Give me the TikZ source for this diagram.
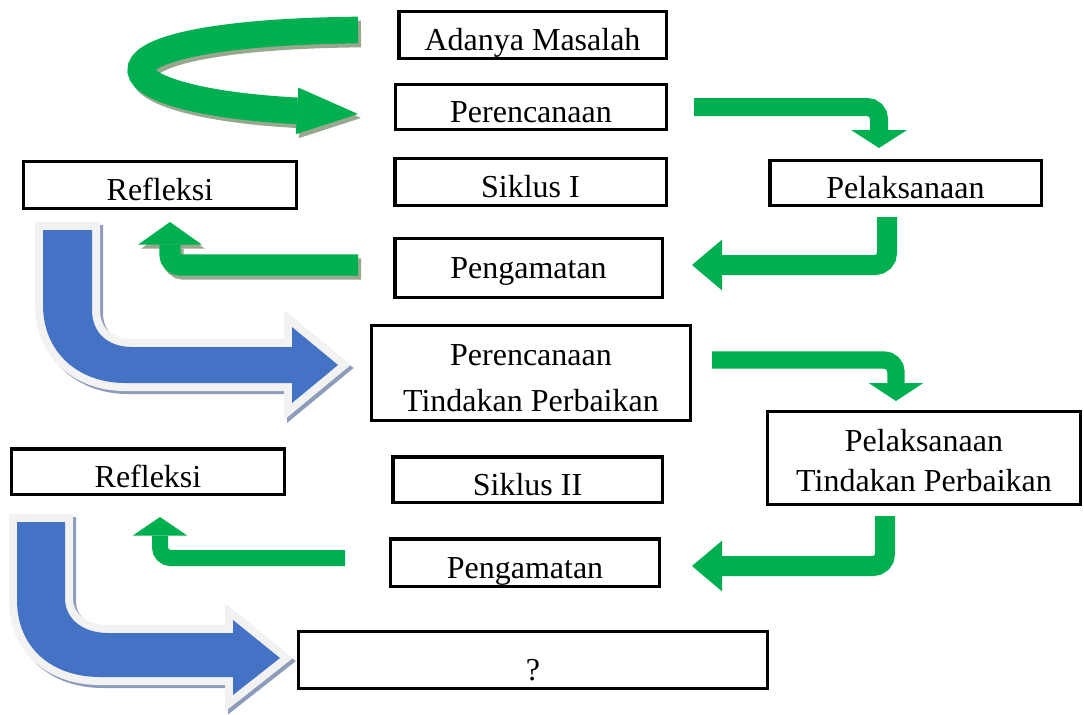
\documentclass[tikz,border=0pt]{standalone}
\usepackage{fontspec}
\setmainfont{Liberation Serif}
\usetikzlibrary{arrows.meta}
\definecolor{arrowgreen}{HTML}{00B050}
\definecolor{arrowblue}{HTML}{4472C4}
\definecolor{greenshade}{HTML}{98A88E}
\definecolor{blueshade}{HTML}{8E9CBB}
\definecolor{rimgray}{HTML}{F2F2F2}
\tikzset{
  boxbase/.style={draw,line width=2.6pt,inner sep=0pt,align=center,
    font=\fontsize{24}{30}\selectfont},
  stagebox/.style={boxbase,text height=28.8pt,text depth=5.3pt},
  greenbend/.style={draw=arrowgreen,line cap=butt},
  shadebend/.style={draw=greenshade,line cap=butt,shift={(3,4)}},
  bluebend/.style={fill=arrowblue,
    preaction={fill=blueshade,draw=blueshade,line width=12pt,
      transform canvas={shift={(2.25pt,-2.25pt)}}},
    preaction={draw=rimgray,line width=12pt}}
}
\begin{document}
\begin{tikzpicture}[x=0.75pt,y=-0.75pt]
\useasboundingbox (0,0) rectangle (1084,714);
% Siklus I
\node[stagebox,minimum width=200.6pt,minimum height=34.9pt] (masalah) at (532.5,35) {Adanya Masalah};
\node[stagebox,minimum width=203pt,minimum height=33.4pt] (renc1) at (531,107) {Perencanaan};
\node[stagebox,minimum width=204.4pt,minimum height=34.9pt] (refl1) at (160,185) {Refleksi};
\node[stagebox,minimum width=203.6pt,minimum height=34.9pt] (siklus1) at (530.5,182) {Siklus I};
\node[stagebox,minimum width=203.6pt,minimum height=33.4pt] (laks1) at (905.5,183) {Pelaksanaan};
\node[stagebox,minimum width=200.6pt,minimum height=43.9pt,text height=21.6pt] (amat1) at (528.5,268) {Pengamatan};
% Siklus II
\node[boxbase,minimum width=238.9pt,minimum height=70.9pt] (renc2) at (531,373) {\rule{0pt}{23.4pt}Perencanaan\\[4.5pt]Tindakan Perbaikan};
\node[boxbase,minimum width=234.4pt,minimum height=69.4pt] (laks2) at (924,458) {\rule{0pt}{21pt}Pelaksanaan\\Tindakan Perbaikan};
\node[stagebox,minimum width=204.4pt,minimum height=34.1pt] (refl2) at (148,471.5) {Refleksi};
\node[stagebox,minimum width=202.1pt,minimum height=34.1pt] (siklus2) at (527.5,479.5) {Siklus II};
\node[stagebox,minimum width=201.4pt,minimum height=35.6pt] (amat2) at (525,562.5) {Pengamatan};
\node[stagebox,minimum width=351.4pt,minimum height=42.4pt,text height=36pt] (tanya) at (533,660) {?};

% green bent arrows
\draw[shadebend,line width=20pt,-{Triangle[length=45.75pt,width=35pt,line width=0pt]}] (358,30) .. controls (70,33) and (88,100) .. (358,114);
\draw[greenbend,line width=20pt,-{Triangle[length=45.75pt,width=35pt,line width=0pt]}] (358,30) .. controls (70,33) and (88,100) .. (358,114);
\draw[greenbend,line width=13.5pt,rounded corners=9pt,-{Triangle[length=13.5pt,width=42pt,line width=0pt]}] (694,107) -- (879,107) -- (879,148);
\draw[greenbend,line width=15pt,rounded corners=9pt,-{Triangle[length=22.5pt,width=38pt,line width=0pt]}] (887,217) -- (887,265) -- (692,265);
\draw[shadebend,line width=16pt,rounded corners=8pt,-{Triangle[length=17pt,width=48pt,line width=0pt]}] (358,265) -- (170,265) -- (170,222);
\draw[greenbend,line width=16pt,rounded corners=8pt,-{Triangle[length=17pt,width=48pt,line width=0pt]}] (358,265) -- (170,265) -- (170,222);
\draw[greenbend,line width=13pt,rounded corners=9pt,-{Triangle[length=13.5pt,width=41pt,line width=0pt]}] (712,360) -- (896,360) -- (896,401);
\draw[greenbend,line width=15pt,rounded corners=9pt,-{Triangle[length=22.5pt,width=38pt,line width=0pt]}] (885,516) -- (885,566) -- (692,566);
\draw[greenbend,line width=12pt,rounded corners=8pt,-{Triangle[length=14pt,width=41pt,line width=0pt]}] (345,558) -- (160,558) -- (160,517);

% blue arrows to the next cycle
\path[bluebend] (43,230) -- (43,305) .. controls (43,352) and (78,383) .. (125,383) -- (292,383) -- (292,403) -- (338,365) -- (292,327) -- (292,347) -- (132,347) .. controls (108,347) and (92,333) .. (92,310) -- (92,230) -- cycle;
\path[bluebend] (17,522) -- (17,600) .. controls (17,648) and (52,677) .. (100,677) -- (233,677) -- (233,695) -- (280,658) -- (233,620) -- (233,633) -- (108,633) .. controls (84,633) and (65,620) .. (65,598) -- (65,522) -- cycle;
\end{tikzpicture}
\end{document}
